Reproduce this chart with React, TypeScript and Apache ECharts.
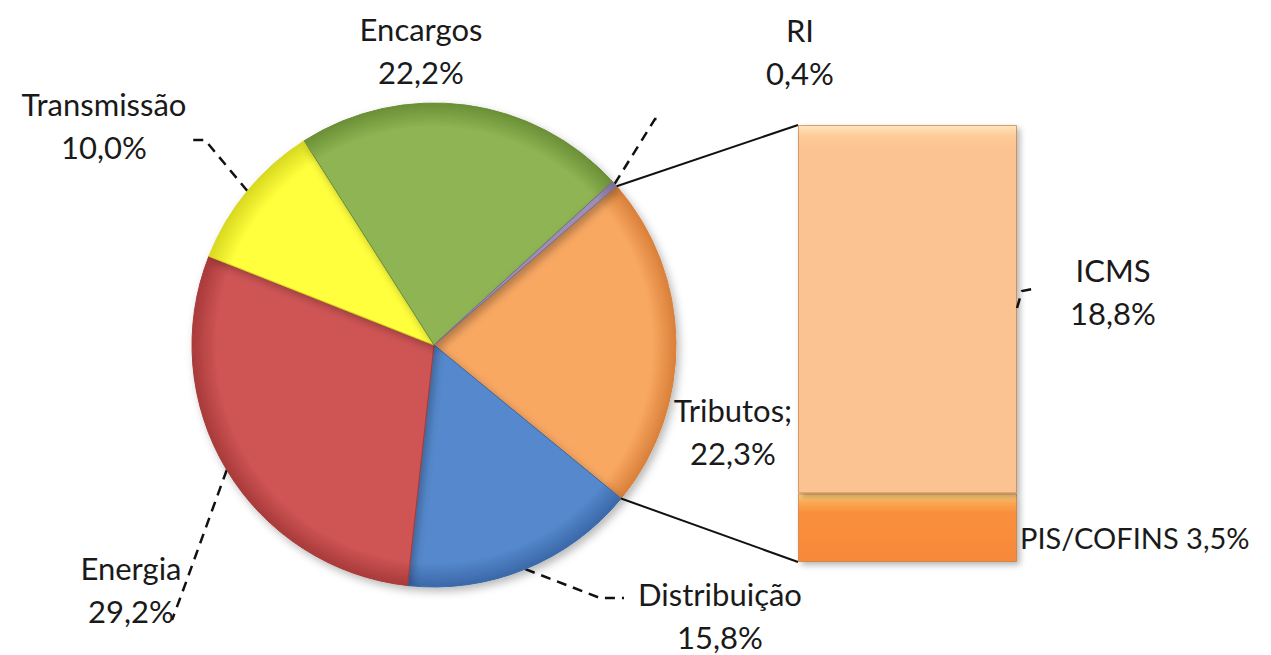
import React, { useEffect, useRef } from "react";
import * as echarts from "echarts";

// ---- data ----
const pieCategories = ["Tributos", "Distribuição", "Energia", "Transmissão", "Encargos", "RI"];
const pieValues = [22.3, 15.8, 29.2, 10.0, 22.2, 0.4];
const barCategories = ["PIS/COFINS", "ICMS"];
const barValues = [3.5, 18.8];

// ---- styles / layout ----
const pieColors = ["#F9A862", "#5588CC", "#CF5454", "#FFFF3C", "#8EB453", "#9C8FB3"];
const pieDark = ["#D9803A", "#3A68A8", "#A83A3A", "#D8D820", "#6A8F36", "#7A6C94"];
const barColors = ["#F98F3A", "#FBC391"];
const barLight = ["#FFD684", "#FFE6BC"];

const CX = 434;
const CY = 345;
const R = 242;
const START = 41;
const GRID = { left: 798, top: 125, width: 219, height: 437 };
const FONT = "Lato, 'Open Sans', sans-serif";
const FS = 31;
const LH = 43;
const TXT = "#1a1a1a";

const pieLabelLayout: Record<string, { x: number; y: number; line?: number[][] }> = {
  "Tributos": { x: 733, y: 431 },
  "Distribuição": { x: 720, y: 615, line: [[600, 598], [624, 598]] },
  "Energia": { x: 131, y: 589, line: [[181, 596], [172, 620]] },
  "Transmissão": { x: 104, y: 125, line: [[205, 140], [190, 140]] },
  "Encargos": { x: 421, y: 50 },
  "RI": { x: 800, y: 51, line: [[655, 119], [661, 119]] },
};
const icmsLeader = [[1017, 308], [1022, 291], [1038, 288]];

const fmt = (v: number) => v.toFixed(1).replace(".", ",") + "%";

export default function App() {
  const ref = useRef<HTMLDivElement>(null);

  useEffect(() => {
    if (!ref.current) return;
    const chart = echarts.init(ref.current, undefined, { renderer: "svg" });
    const total = pieValues.reduce((a, b) => a + b, 0);
    const barTotal = barValues.reduce((a, b) => a + b, 0);

    const pieData = pieCategories.map((name, i) => ({
      name,
      value: pieValues[i],
      itemStyle: {
        color: {
          type: "radial",
          x: CX,
          y: CY,
          r: R,
          global: true,
          colorStops: [
            { offset: 0, color: pieColors[i] },
            { offset: 0.9, color: pieColors[i] },
            { offset: 1, color: pieDark[i] },
          ],
        },
        borderColor: pieDark[i],
      },
      labelLine: { show: !!pieLabelLayout[name].line },
    }));

    const barSeries = barCategories.map((name, i) => ({
      type: "bar",
      name,
      stack: "tributos",
      barWidth: "100%",
      data: [barValues[i]],
      itemStyle: {
        color: {
          type: "linear",
          x: 0,
          y: 0,
          x2: 0,
          y2: 1,
          colorStops:
            i === 0
              ? [
                  { offset: 0, color: barLight[i] },
                  { offset: 0.14, color: "#FBA550" },
                  { offset: 0.28, color: barColors[i] },
                  { offset: 1, color: "#F7893A" },
                ]
              : [
                  { offset: 0, color: barLight[i] },
                  { offset: 0.03, color: "#FCCB98" },
                  { offset: 0.06, color: barColors[i] },
                  { offset: 1, color: barColors[i] },
                ],
        },
        borderColor: "rgba(190,110,40,0.6)",
        borderWidth: 1,
        shadowBlur: 6,
        shadowOffsetX: 3,
        shadowOffsetY: 3,
        shadowColor: "rgba(0,0,0,0.3)",
      },
      label: {
        show: true,
        position: "right",
        formatter: i === 0 ? `${name} ${fmt(barValues[i])}` : `${name}\n${fmt(barValues[i])}`,
        fontFamily: FONT,
        fontSize: i === 0 ? 29 : FS,
        lineHeight: LH,
        color: TXT,
      },
      labelLayout:
        i === 0
          ? { x: GRID.left + GRID.width + 3, y: 537, align: "left", verticalAlign: "middle" }
          : { x: 1113, y: 291, align: "center", verticalAlign: "middle" },
    }));

    chart.setOption({
      animation: false,
      backgroundColor: "#ffffff",
      grid: { ...GRID },
      xAxis: { type: "category", data: ["Tributos"], show: false },
      yAxis: { type: "value", min: 0, max: barTotal, show: false },
      series: [
        {
          type: "pie",
          center: [CX, CY],
          radius: R,
          startAngle: START,
          clockwise: true,
          avoidLabelOverlap: false,
          data: pieData,
          itemStyle: {
            borderWidth: 1,
            shadowBlur: 8,
            shadowOffsetX: 3,
            shadowOffsetY: 4,
            shadowColor: "rgba(0,0,0,0.28)",
          },
          label: {
            show: true,
            position: "outside",
            formatter: (p: any) =>
              (p.name === "Tributos" ? p.name + ";" : p.name) + "\n" + fmt(p.value),
            fontFamily: FONT,
            fontSize: FS,
            lineHeight: LH,
            color: TXT,
            align: "center",
          },
          labelLine: {
            show: true,
            lineStyle: { color: "#111", width: 2.5, type: [10, 7] },
          },
          labelLayout: (params: any) => {
            const name = pieCategories[params.dataIndex];
            const p = pieLabelLayout[name];
            const res: any = { x: p.x, y: p.y, align: "center", verticalAlign: "middle" };
            if (p.line) {
              let start = params.labelLinePoints && params.labelLinePoints[0];
              if (!start) {
                let before = 0;
                for (let k = 0; k < params.dataIndex; k++) before += pieValues[k];
                const mid = START - ((before + pieValues[params.dataIndex] / 2) / total) * 360;
                const a = (mid * Math.PI) / 180;
                start = [CX + R * Math.cos(a), CY - R * Math.sin(a)];
              }
              res.labelLinePoints = [start, ...p.line];
            }
            return res;
          },
        },
        ...barSeries,
      ],
    });

    // connector lines from the Tributos slice edges to the bar corners
    const a0 = (START * Math.PI) / 180;
    const a1 = ((START - (pieValues[0] / total) * 360) * Math.PI) / 180;
    const p0 = [CX + R * Math.cos(a0), CY - R * Math.sin(a0)];
    const p1 = [CX + R * Math.cos(a1), CY - R * Math.sin(a1)];
    const yTop = chart.convertToPixel({ yAxisIndex: 0 }, barTotal) as number;
    const yBot = chart.convertToPixel({ yAxisIndex: 0 }, 0) as number;

    chart.setOption({
      graphic: [
        {
          type: "line",
          shape: { x1: p0[0], y1: p0[1], x2: GRID.left, y2: yTop },
          style: { stroke: "#111", lineWidth: 2 },
          z: 10,
        },
        {
          type: "line",
          shape: { x1: p1[0], y1: p1[1], x2: GRID.left, y2: yBot },
          style: { stroke: "#111", lineWidth: 2 },
          z: 10,
        },
        {
          type: "polyline",
          shape: { points: icmsLeader },
          style: { stroke: "#111", lineWidth: 2.5, lineDash: [10, 7], fill: null },
          z: 10,
        },
      ],
    });

    return () => chart.dispose();
  }, []);

  return (
    <div
      ref={ref}
      style={{ position: "fixed", left: 0, top: 0, width: 1271, height: 655, background: "#fff" }}
    />
  );
}
